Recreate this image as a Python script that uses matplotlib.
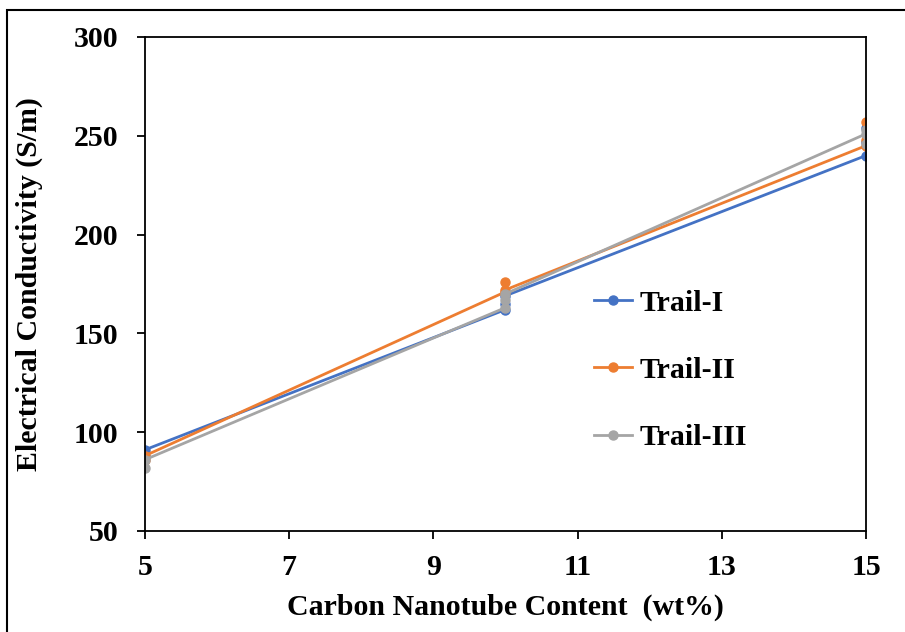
import matplotlib.pyplot as plt
from matplotlib.patches import Rectangle

# repeated measurements at each CNT loading, in measurement order
x_vals = [5, 5, 10, 10, 10, 15, 15, 15]
trail_1 = [88, 91, 162, 165, 169, 240, 247, 254]
trail_2 = [86, 88, 171, 176, 172, 245, 248, 257]
trail_3 = [82, 86, 163, 167, 170, 251, 246, 253]

labels = ["Trail-I", "Trail-II", "Trail-III"]
colors = ["#4472C4", "#ED7D31", "#A5A5A5"]

plt.rcParams['font.family'] = ['Liberation Serif', 'DejaVu Serif']
plt.rcParams['font.weight'] = 'bold'

fig = plt.figure(figsize=(9.05, 6.32), dpi=100)
ax = fig.add_axes([0.160, 0.160, 0.797, 0.7815])

for y, lab, c in zip([trail_1, trail_2, trail_3], labels, colors):
    ax.plot(x_vals, y, color=c, lw=2, marker='o', ms=6.5, label=lab)

ax.set_xlim(5, 15)
ax.set_ylim(50, 300)
ax.set_xticks([5, 7, 9, 11, 13, 15])
ax.set_yticks([50, 100, 150, 200, 250, 300])
ax.tick_params(labelsize=21.5, width=1.3, length=6, direction='out')
ax.tick_params(axis='x', pad=11)
ax.tick_params(axis='y', pad=13)
for s in ax.spines.values():
    s.set_linewidth(1.3)

ax.set_xlabel("Carbon Nanotube Content  (wt%)", fontsize=21.5, fontweight='bold', labelpad=9)
ax.set_ylabel("Electrical Conductivity (S/m)", fontsize=21.5, fontweight='bold', labelpad=22)

leg = ax.legend(loc='center left', bbox_to_anchor=(0.585, 0.325), frameon=False,
                fontsize=21.5, labelspacing=1.35, handlelength=1.3, handletextpad=0.25)

# outer frame around the figure
fig.patches.append(Rectangle((7 / 905, -0.1), 1.2, 1 - 10 / 632 + 0.1,
                             transform=fig.transFigure, fill=False,
                             edgecolor='black', lw=1.5))

fig.savefig("out.png", dpi=100)
